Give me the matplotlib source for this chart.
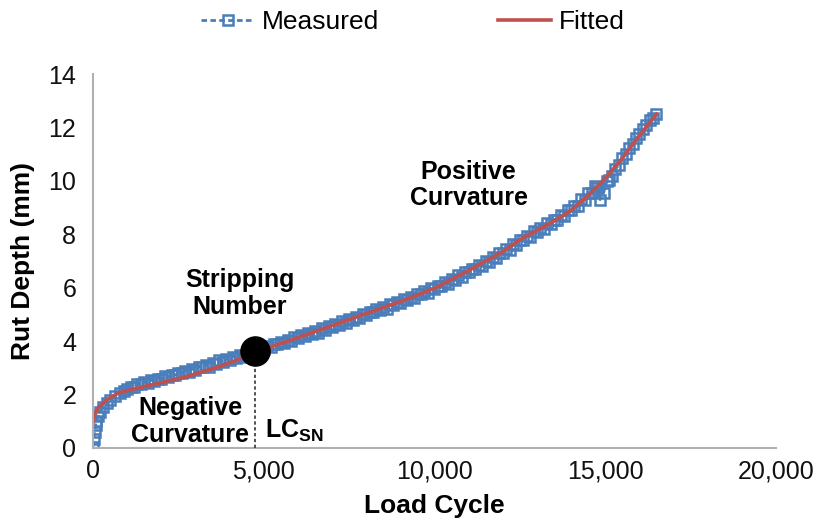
import matplotlib.pyplot as plt

# -----------------------
# Data
# -----------------------
measured_x = [0, 25, 50, 75, 100, 150, 200, 300, 400, 500, 650, 800, 900,
              1000, 1100, 1200, 1300, 1400, 1500, 1600, 1700, 1800, 1900,
              2000, 2100, 2200, 2300, 2400, 2500, 2600, 2700, 2800, 2900,
              3000, 3100, 3200, 3300, 3400, 3500, 3600, 3700, 3800, 3900,
              4000, 4100, 4200, 4300, 4400, 4500, 4600, 4700, 4800, 4900,
              5000, 5100, 5200, 5300, 5400, 5500, 5600, 5700, 5800, 5900,
              6000, 6100, 6200, 6300, 6400, 6500, 6600, 6700, 6800, 6900,
              7000, 7100, 7200, 7300, 7400, 7500, 7600, 7700, 7800, 7900,
              8000, 8100, 8200, 8300, 8400, 8500, 8600, 8700, 8800, 8900,
              9000, 9100, 9200, 9300, 9400, 9500, 9600, 9700, 9800, 9900,
              10000, 10100, 10200, 10300, 10400, 10500, 10600, 10700, 10800, 10900,
              11000, 11100, 11200, 11300, 11400, 11500, 11600, 11700, 11800, 11900,
              12000, 12100, 12200, 12300, 12400, 12500, 12600, 12700, 12800, 12900,
              13000, 13100, 13200, 13300, 13400, 13500, 13600, 13700, 13800, 13900,
              14000, 14100, 14200, 14300, 14400, 14500, 14600, 14700, 14750, 14850,
              14950, 15050, 15100, 15200, 15300, 15400, 15500, 15600, 15700, 15800,
              15900, 16000, 16100, 16200, 16300, 16400, 16500]
measured_y = [0.05, 0.35, 0.6, 0.85, 1.0, 1.2, 1.35, 1.55, 1.7, 1.8, 1.95, 2.05, 2.15,
              2.2, 2.28, 2.3, 2.4, 2.38, 2.46, 2.45, 2.55, 2.5, 2.6,
              2.6, 2.68, 2.65, 2.75, 2.72, 2.82, 2.8, 2.9, 2.85, 2.96,
              2.92, 3.05, 3.02, 3.12, 3.05, 3.2, 3.15, 3.28, 3.22, 3.35,
              3.28, 3.42, 3.38, 3.5, 3.42, 3.58, 3.55, 3.65, 3.6, 3.75,
              3.72, 3.82, 3.8, 3.9, 3.88, 3.98, 3.92, 4.06, 4.02, 4.15,
              4.12, 4.22, 4.18, 4.32, 4.28, 4.4, 4.32, 4.48, 4.42, 4.56,
              4.55, 4.64, 4.62, 4.74, 4.68, 4.82, 4.78, 4.92, 4.88, 5.0,
              4.98, 5.1, 5.08, 5.2, 5.18, 5.28, 5.22, 5.38, 5.35, 5.48,
              5.42, 5.58, 5.55, 5.66, 5.62, 5.78, 5.75, 5.88, 5.82, 5.98,
              5.95, 6.08, 6.05, 6.22, 6.15, 6.32, 6.3, 6.46, 6.42, 6.6,
              6.58, 6.72, 6.7, 6.86, 6.82, 7.0, 6.98, 7.16, 7.12, 7.32,
              7.3, 7.45, 7.42, 7.64, 7.62, 7.8, 7.78, 7.95, 7.92, 8.12,
              8.1, 8.25, 8.22, 8.42, 8.4, 8.55, 8.52, 8.72, 8.7, 8.92,
              8.9, 9.08, 9.05, 9.32, 9.3, 9.55, 9.55, 9.8, 9.75, 9.3,
              9.55, 10.0, 10.05, 10.2, 10.45, 10.6, 10.85, 11.0, 11.25, 11.4,
              11.6, 11.75, 11.95, 12.1, 12.28, 12.35, 12.5]

fitted_x = [0, 50, 150, 400, 730, 1000, 1700, 2700, 3660, 4360, 4750, 5200,
            6150, 7150, 8100, 9080, 10070, 11000, 12000, 12500, 13000, 13500,
            14000, 14500, 15000, 15500, 16000, 16500]
fitted_y = [0.95, 1.25, 1.5, 1.8, 2.05, 2.15, 2.36, 2.66, 3.03, 3.37, 3.62, 3.78,
            4.2, 4.65, 5.08, 5.52, 6.02, 6.65, 7.35, 7.8, 8.15, 8.5, 8.9, 9.45,
            10.1, 10.85, 11.7, 12.5]

sn_x = 4750          # stripping number load cycle
sn_y = 3.65

BLUE = "#4A7EBB"
RED = "#C0504D"

plt.rcParams["font.family"] = ["Liberation Sans", "DejaVu Sans"]
plt.rcParams["mathtext.fontset"] = "custom"
plt.rcParams["mathtext.rm"] = "Liberation Sans"
plt.rcParams["mathtext.bf"] = "Liberation Sans:bold"

# -----------------------
# Plot
# -----------------------
fig = plt.figure(figsize=(8.2, 5.26), dpi=100)
ax = fig.add_axes([0.1134, 0.1483, 0.8329, 0.7107])

ax.plot(measured_x, measured_y, color=BLUE, linestyle=(0, (2, 1.2)),
        linewidth=2.0, marker="s", markersize=7, markerfacecolor="none",
        markeredgecolor=BLUE, markeredgewidth=1.8, label="Measured")
ax.plot(fitted_x, fitted_y, color=RED, linewidth=2.6, label="Fitted")

# Stripping number point and its drop line
ax.plot([sn_x, sn_x], [0, sn_y], color="#333333", linestyle=(0, (2, 1.5)),
        linewidth=1.2, zorder=4)
ax.plot(sn_x, sn_y, "o", color="black", markersize=21, zorder=5)

# Annotations
bold = dict(fontsize=18, fontweight="bold", ha="center", va="center",
            linespacing=1.15)
ax.text(4300, 5.8, "Stripping\nNumber", **bold)
ax.text(11000, 9.85, "Positive\nCurvature", **bold)
ax.text(2850, 1.0, "Negative\nCurvature", **bold)
ax.text(5050, 0.65, r"$\mathbf{LC_{SN}}$", fontsize=18, ha="left", va="center")

# Axes cosmetics
ax.set_xlim(0, 20000)
ax.set_ylim(0, 14)
ax.set_xticks([0, 5000, 10000, 15000, 20000])
ax.set_xticklabels(["0", "5,000", "10,000", "15,000", "20,000"])
ax.set_yticks(range(0, 15, 2))
ax.tick_params(axis="both", length=0, labelsize=18, colors="#111111")
ax.tick_params(axis="y", pad=12)
ax.tick_params(axis="x", pad=8)
for side in ("top", "right"):
    ax.spines[side].set_visible(False)
for side in ("left", "bottom"):
    ax.spines[side].set_color("#B0B0B0")
    ax.spines[side].set_linewidth(1.5)

ax.set_xlabel("Load Cycle", fontsize=19, fontweight="bold", labelpad=8)
ax.set_ylabel("Rut Depth (mm)", fontsize=19, fontweight="bold", labelpad=10)

fig.legend(loc="center", bbox_to_anchor=(413 / 820, 0.958), ncol=2,
           frameon=False, fontsize=19, handlelength=2.0, handletextpad=0.3,
           columnspacing=4.5, numpoints=1)

fig.savefig("out.png", dpi=100)
